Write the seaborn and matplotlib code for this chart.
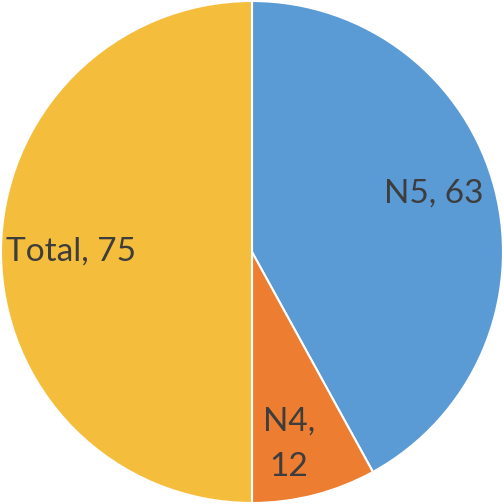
import numpy as np
import matplotlib
matplotlib.use("Agg")
import matplotlib.pyplot as plt
import seaborn as sns

# Data
categories = ["N5", "N4", "Total"]
values = [63, 12, 75]
colors = ["#5B9BD5", "#ED7D31", "#F5BD3C"]

sns.set_style("white")
plt.rcParams['font.family'] = ['Lato', 'DejaVu Sans']

fig = plt.figure(figsize=(5.04, 5.04), dpi=100)
ax = fig.add_axes([0, 0, 1, 1])

labels = [f"{c}, {v}" for c, v in zip(categories, values)]
labels[1] = labels[1].replace(", ", ",\n")

wedges, texts = ax.pie(values, labels=labels, colors=colors, startangle=90,
                       counterclock=False, radius=1.0, labeldistance=0.8,
                       wedgeprops={"edgecolor": "white", "linewidth": 1.5},
                       textprops={"fontsize": 24, "color": "#3d3d3d",
                                  "ha": "center", "va": "center"})

# nudge labels to where they sit in the original
dist = [0.76, 0.78, 0.72]
shift = [3.4, -3.5, 0.0]
for w, t, d, s in zip(wedges, texts, dist, shift):
    ang = np.deg2rad((w.theta1 + w.theta2) / 2 + s)
    t.set_position((d * np.cos(ang), d * np.sin(ang)))
    t.set_ha("center")
    t.set_va("center")
texts[1].set_linespacing(1.65)

ax.set_xlim(-1.004, 1.004)
ax.set_ylim(-1.004, 1.004)
ax.set_aspect("equal")
ax.axis("off")

fig.savefig("out.png", dpi=100, facecolor="white")
